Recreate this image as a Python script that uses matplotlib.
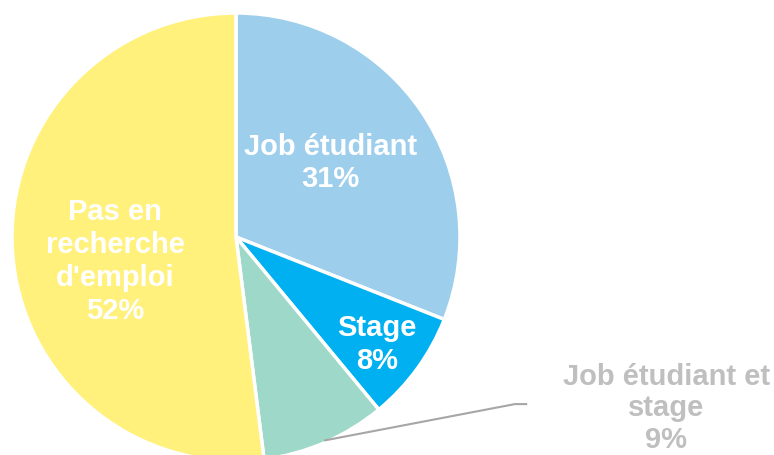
import numpy as np
import matplotlib.pyplot as plt

# slice data (clockwise from 12 o'clock)
labels = ['Job étudiant', 'Stage', 'Job étudiant et\nstage', "Pas en\nrecherche\nd'emploi"]
values = [31, 8, 9, 52]
colors = ['#9DCEEC', '#00B0F0', '#9ED8C8', '#FFF17C']

fig = plt.figure(figsize=(7.74, 4.55), dpi=100)
# centre of the pie at (236, 237) px, radius 224 px
ax = fig.add_axes([12 / 774, (455 - 237 - 224) / 455, 448 / 774, 448 / 455])

wedges, _ = ax.pie(values, colors=colors, startangle=90, counterclock=False,
                   wedgeprops=dict(edgecolor='white', linewidth=2.5))
ax.set_xlim(-1, 1)
ax.set_ylim(-1, 1)
ax.set_aspect('equal')
ax.axis('off')

font = dict(family=['Liberation Sans', 'DejaVu Sans'], fontsize=21, fontweight='bold',
            ha='center', va='center', linespacing=1.22)

# label positions in axes data units
label_pos = [(0.42, 0.33), (0.63, -0.48), (1.92, -0.765), (-0.54, -0.11)]
for i, (lab, v) in enumerate(zip(labels, values)):
    x, y = label_pos[i]
    if i == 2:
        ax.text(x, y, f'{lab}\n{v}%', color='#BFBFBF', clip_on=False,
                **{**font, 'linespacing': 1.15})
    else:
        ax.text(x, y, f'{lab}\n{v}%', color='white', **font)

# leader line for the small slice
w = wedges[2]
mid = np.deg2rad((w.theta1 + w.theta2) / 2)
x0, y0 = np.cos(mid) * 0.99, np.sin(mid) * 0.99
ax.plot([x0, 1.245, 1.30], [y0, -0.746, -0.746], color='#A6A6A6', lw=1.5,
        clip_on=False, solid_capstyle='butt')

fig.savefig('out.png', dpi=100)
